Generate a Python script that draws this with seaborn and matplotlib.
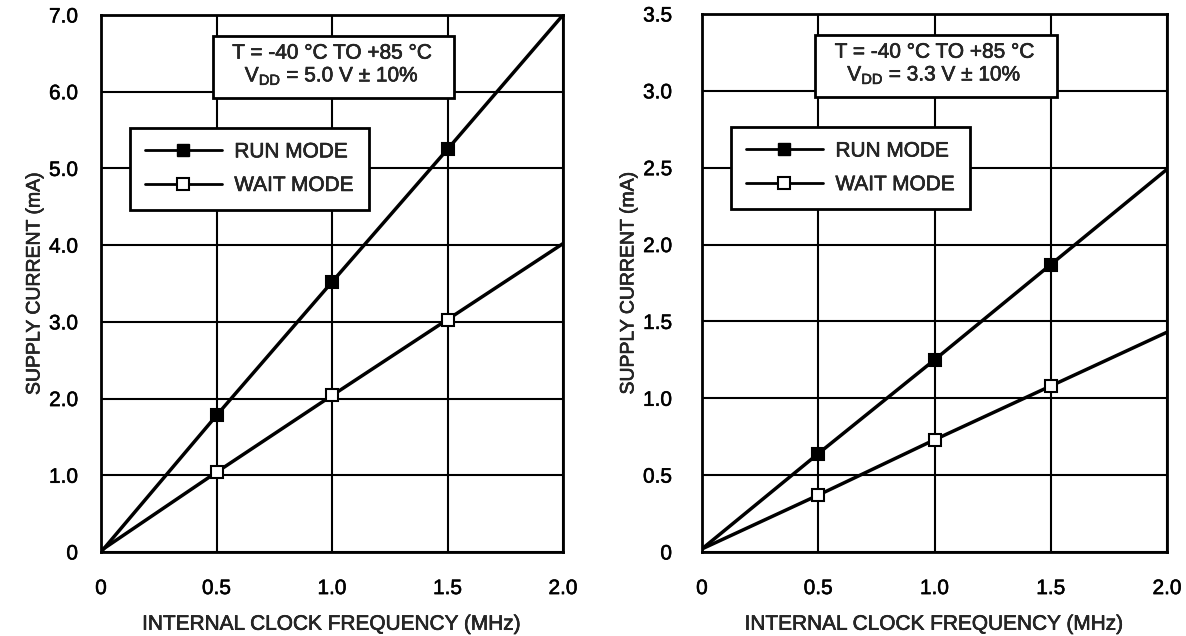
import matplotlib
matplotlib.use('Agg')
from matplotlib import pyplot as plt
from matplotlib import patheffects as pe
from matplotlib.lines import Line2D
from matplotlib.patches import Rectangle
import seaborn as sns

freq = [0.0, 0.5, 1.0, 1.5, 2.0]
run_5v = [0.0, 1.78, 3.52, 5.25, 7.0]
wait_5v = [0.02, 1.04, 2.04, 3.03, 4.02]
run_3v = [0.02, 0.64, 1.25, 1.87, 2.49]
wait_3v = [0.02, 0.37, 0.73, 1.08, 1.43]

x_ticks = [0, 0.5, 1.0, 1.5, 2.0]
x_labels = ['0', '0.5', '1.0', '1.5', '2.0']
y_ticks_5v = [0, 1, 2, 3, 4, 5, 6, 7]
y_labels_5v = ['0', '1.0', '2.0', '3.0', '4.0', '5.0', '6.0', '7.0']
y_ticks_3v = [0, 0.5, 1.0, 1.5, 2.0, 2.5, 3.0, 3.5]
y_labels_3v = ['0', '0.5', '1.0', '1.5', '2.0', '2.5', '3.0', '3.5']

cond_5v = ['T = -40 °C TO +85 °C', r'V$_{\mathrm{DD}}$ = 5.0 V ± 10%']
cond_3v = ['T = -40 °C TO +85 °C', r'V$_{\mathrm{DD}}$ = 3.3 V ± 10%']

sns.set_style('white')
plt.rcParams['font.family'] = ['Liberation Sans', 'DejaVu Sans']
plt.rcParams['mathtext.fontset'] = 'custom'
plt.rcParams['mathtext.rm'] = 'Liberation Sans'

# scanned datasheet text looks a bit heavier than a plain regular font
heavy = [pe.withStroke(linewidth=0.4, foreground='black')]

fig = plt.figure(figsize=(11.86, 6.36), dpi=100)
ax1 = fig.add_axes([0.0852, 0.1321, 0.3895, 0.8443])
ax2 = fig.add_axes([0.5919, 0.1321, 0.3921, 0.8459])


def draw_panel(ax, run, wait, yticks, ylabels, cond, ypad):
    sns.lineplot(x=freq, y=run, ax=ax, color='black', lw=2.5, marker='s',
                 markersize=8, markerfacecolor='black', markeredgecolor='black',
                 markeredgewidth=1.5, markevery=[1, 2, 3], legend=False, zorder=3)
    sns.lineplot(x=freq, y=wait, ax=ax, color='black', lw=2.5, marker='s',
                 markersize=8, markerfacecolor='white', markeredgecolor='black',
                 markeredgewidth=1.5, markevery=[1, 2, 3], legend=False, zorder=3)
    ax.set_xlim(0, 2.0)
    ax.set_ylim(yticks[0], yticks[-1])
    ax.set_xticks(x_ticks)
    ax.set_xticklabels(x_labels)
    ax.set_yticks(yticks)
    ax.set_yticklabels(ylabels)
    ax.grid(True, color='black', lw=1.5)
    ax.set_axisbelow(True)
    for s in ax.spines.values():
        s.set_linewidth(2)
        s.set_color('black')
    ax.tick_params(axis='both', direction='out', length=7.5, width=1.5,
                   labelsize=15, colors='black')
    ax.tick_params(axis='x', pad=12)
    ax.tick_params(axis='y', pad=ypad)
    ax.set_xlabel('INTERNAL CLOCK FREQUENCY (MHz)', fontsize=15, labelpad=12)
    ax.set_ylabel('SUPPLY CURRENT (mA)', fontsize=14, labelpad=4)

    # condition box
    ax.add_patch(Rectangle((0.242, 0.845), 0.522, 0.116, transform=ax.transAxes,
                           facecolor='white', edgecolor='black', lw=2, zorder=4))
    ax.text(0.5, 0.929, cond[0], transform=ax.transAxes, ha='center', va='center',
            fontsize=15, zorder=5, path_effects=heavy)
    ax.text(0.5, 0.886, cond[1], transform=ax.transAxes, ha='center', va='center',
            fontsize=15, zorder=5, path_effects=heavy)

    handles = [
        Line2D([], [], color='black', lw=2, marker='s', markersize=8,
               markerfacecolor='black', markeredgecolor='black'),
        Line2D([], [], color='black', lw=2, marker='s', markersize=8,
               markerfacecolor='white', markeredgecolor='black', markeredgewidth=1.5),
    ]
    leg = ax.legend(handles, ['RUN MODE', 'WAIT MODE'], loc='upper left',
                    bbox_to_anchor=(0.063, 0.79), borderaxespad=0, fontsize=15,
                    handlelength=3.7, handletextpad=0.6, labelspacing=0.7,
                    borderpad=0.7, fancybox=False, framealpha=1, edgecolor='black')
    leg.get_frame().set_linewidth(2)
    leg.set_zorder(6)
    for t in leg.get_texts():
        t.set_path_effects(heavy)
    for t in ax.get_xticklabels() + ax.get_yticklabels():
        t.set_path_effects(heavy)
    ax.xaxis.label.set_path_effects(heavy)
    ax.yaxis.label.set_path_effects(heavy)


draw_panel(ax1, run_5v, wait_5v, y_ticks_5v, y_labels_5v, cond_5v, 9)
draw_panel(ax2, run_3v, wait_3v, y_ticks_3v, y_labels_3v, cond_3v, 14)

fig.savefig('out.png', dpi=100)
